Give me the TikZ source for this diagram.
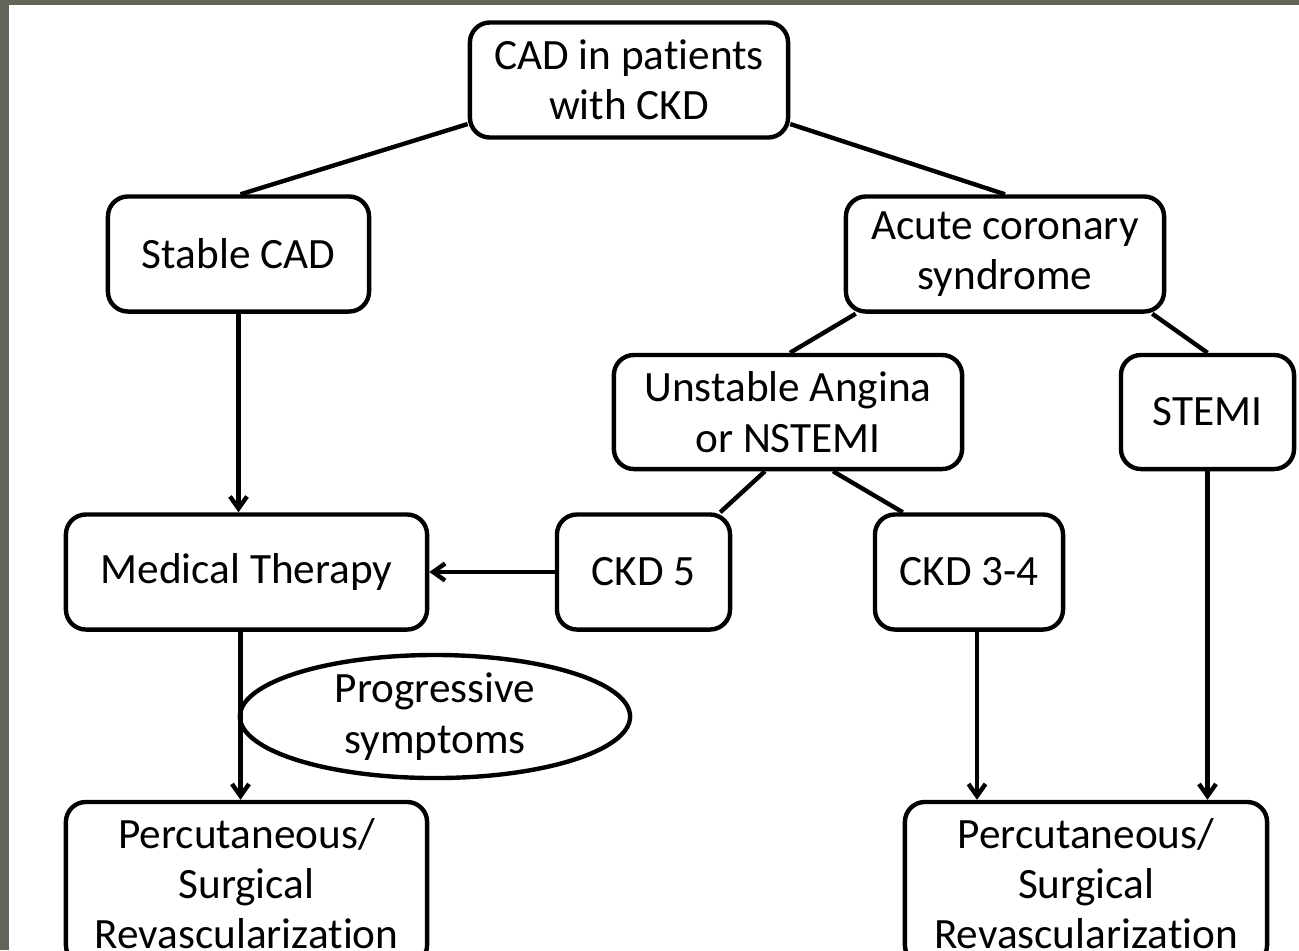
\documentclass[tikz,border=0pt]{standalone}
\usepackage{fontspec}
\setmainfont{Carlito}[Ligatures=NoCommon]
\usetikzlibrary{arrows.meta,shapes.geometric,calc}
\definecolor{frame}{RGB}{100,100,88}
\begin{document}
\begin{tikzpicture}[x=0.01cm,y=-0.01cm,
  box/.style={draw,line width=1.25pt,rounded corners=0.2cm,align=center,inner sep=0pt,
    font=\fontsize{12.3pt}{14.3pt}\selectfont},
  oval/.style={draw,ellipse,line width=1.25pt,align=center,inner sep=0pt,
    font=\fontsize{12.3pt}{14.3pt}\selectfont},
  conn/.style={line width=1.25pt},
  arr/.style={line width=1.25pt,-{Straight Barb[length=0.12cm,width=0.17cm,line width=1.25pt]}}]
\useasboundingbox (0,0) rectangle (1299,950);
\clip (0,0) rectangle (1299,950);
\fill[frame] (0,0) rectangle (1299,950);
\fill[white] (9,5) rectangle (1299,950);
\node[box,minimum width=3.18cm,minimum height=1.15cm] (cad) at (629,80) {CAD in patients\\with CKD};
\node[box,minimum width=2.61cm,minimum height=1.15cm] (stable) at (238.5,254) {Stable CAD};
\node[box,minimum width=3.18cm,minimum height=1.15cm] (acs) at (1005,254) {Acute coronary\\syndrome};
\node[box,minimum width=3.48cm,minimum height=1.14cm] (ua) at (788,412) {Unstable Angina\\or NSTEMI};
\node[box,minimum width=1.73cm,minimum height=1.14cm] (stemi) at (1207.5,412) {STEMI};
\node[box,minimum width=3.61cm,minimum height=1.15cm] (med) at (246.5,572) {Medical Therapy};
\node[box,minimum width=1.73cm,minimum height=1.15cm] (ckdf) at (643.5,572) {CKD 5};
\node[box,minimum width=1.88cm,minimum height=1.15cm] (ckdt) at (969,572) {CKD 3-4};
\node[box,minimum width=3.61cm,minimum height=1.63cm] (pl) at (246.5,883.5) {Percutaneous/\\Surgical\\Revascularization};
\node[box,minimum width=3.62cm,minimum height=1.63cm] (pr) at (1086,883.5) {Percutaneous/\\Surgical\\Revascularization};
\node[oval,minimum width=3.9cm,minimum height=1.17cm] (prog) at (435,716.5) {Progressive\\symptoms};
\draw[conn] ([yshift=-0.44cm]cad.west) -- ([xshift=0.02cm]stable.north);
\draw[conn] ([yshift=-0.44cm]cad.east) -- (acs.north);
\draw[conn] ([xshift=0.12cm]acs.south west) -- ([xshift=0.02cm]ua.north);
\draw[conn] ([xshift=-0.14cm]acs.south east) -- (stemi.north);
\draw[conn] ([xshift=-0.23cm]ua.south) -- ([xshift=-0.12cm]ckdf.north east);
\draw[conn] ([xshift=0.45cm]ua.south) -- ([xshift=0.30cm]ckdt.north west);
\draw[arr] (stable.south) -- (stable.south |- med.north);
\draw[arr] (ckdf.west) -- (med.east);
\draw[arr] ([xshift=-0.06cm]med.south) -- ([xshift=-0.06cm]med.south |- pl.north);
\draw[arr] ([xshift=0.08cm]ckdt.south) -- ([xshift=0.08cm]ckdt.south |- pr.north);
\draw[arr] (stemi.south) -- (stemi.south |- pr.north);
\end{tikzpicture}
\end{document}
